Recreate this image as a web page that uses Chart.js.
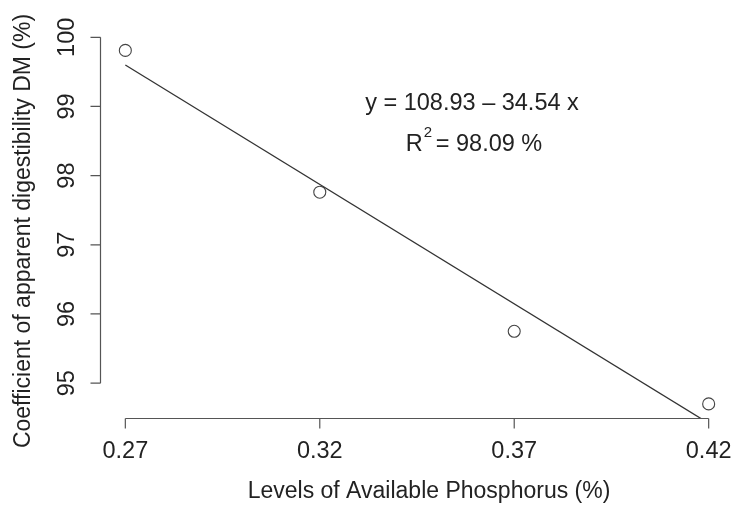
<!DOCTYPE html>
<html>
<head>
<meta charset="utf-8">
<script src="https://cdn.jsdelivr.net/npm/chart.js@4"></script>
<style>
  html, body { margin: 0; padding: 0; background: #fff; }
  #wrap { width: 734px; height: 505px; }
</style>
</head>
<body>
<div id="wrap"><canvas id="chart" width="734" height="505"></canvas></div>
<script>
const phosphorus = [0.27, 0.32, 0.37, 0.42];
const digestibility = [99.81, 97.76, 95.75, 94.70];

// fitted line end points (y = 108.93 - 34.54 x)
const fitX = [0.27, 0.42];
const fitY = [99.60, 94.42];

const xTicks = [0.27, 0.32, 0.37, 0.42];
const yTicks = [95, 96, 97, 98, 99, 100];

const xTitle = "Levels of Available Phosphorus (%)";
const yTitle = "Coefficient of apparent digestibility DM (%)";
const eqLine = "y = 108.93 \u2013 34.54 x";
const r2Value = "= 98.09 %";

const FONT = "'Liberation Sans', Arial, sans-serif";
const INK = "#222";

const rAxes = {
    id: "rAxes",
    afterDraw(chart) {
        const ctx = chart.ctx;
        const x = chart.scales.x;
        const y = chart.scales.y;
        const area = chart.chartArea;
        ctx.save();
        ctx.strokeStyle = "#555";
        ctx.lineWidth = 1.2;
        ctx.fillStyle = INK;
        ctx.font = "23.5px " + FONT;

        // x axis
        const ay = Math.round(area.bottom) + 0.5;
        ctx.beginPath();
        ctx.moveTo(x.getPixelForValue(xTicks[0]), ay);
        ctx.lineTo(x.getPixelForValue(xTicks[xTicks.length - 1]), ay);
        xTicks.forEach((t) => {
            const px = x.getPixelForValue(t);
            ctx.moveTo(px, ay);
            ctx.lineTo(px, ay + 10);
        });
        ctx.stroke();
        ctx.textAlign = "center";
        ctx.textBaseline = "middle";
        xTicks.forEach((t) => {
            ctx.fillText(t.toFixed(2), x.getPixelForValue(t), ay + 33);
        });

        // y axis
        const ax = Math.round(area.left) - 1.5;
        ctx.beginPath();
        ctx.moveTo(ax, y.getPixelForValue(yTicks[0]));
        ctx.lineTo(ax, y.getPixelForValue(yTicks[yTicks.length - 1]));
        yTicks.forEach((t) => {
            const py = y.getPixelForValue(t);
            ctx.moveTo(ax, py);
            ctx.lineTo(ax - 10, py);
        });
        ctx.stroke();
        yTicks.forEach((t) => {
            ctx.save();
            ctx.translate(ax - 33, y.getPixelForValue(t));
            ctx.rotate(-Math.PI / 2);
            ctx.fillText(String(t), 0, 0);
            ctx.restore();
        });

        // axis titles
        ctx.font = "23px " + FONT;
        ctx.fillText(xTitle, 429, 492);
        ctx.save();
        ctx.translate(24, 231);
        ctx.rotate(-Math.PI / 2);
        ctx.fillText(yTitle, 0, 0);
        ctx.restore();

        // equation text
        ctx.font = "23.5px " + FONT;
        ctx.fillText(eqLine, 472, 104);
        ctx.textAlign = "left";
        const rW = ctx.measureText("R").width;
        const restW = ctx.measureText(r2Value).width;
        const startX = 474 - (rW + 13 + restW) / 2;
        ctx.fillText("R", startX, 145);
        ctx.font = "15px " + FONT;
        ctx.fillText("2", startX + rW + 1, 133);
        ctx.font = "23.5px " + FONT;
        ctx.fillText(r2Value, startX + rW + 13, 145);
        ctx.restore();
    }
};

document.addEventListener("DOMContentLoaded", () => {
    const ctx = document.getElementById("chart").getContext("2d");
    new Chart(ctx, {
        type: "scatter",
        data: {
            datasets: [
                {
                    label: "fit",
                    data: fitX.map((v, i) => ({ x: v, y: fitY[i] })),
                    showLine: true,
                    borderColor: "#333",
                    borderWidth: 1.3,
                    pointRadius: 0,
                    fill: false,
                    clip: 0,
                },
                {
                    label: "observed",
                    data: phosphorus.map((v, i) => ({ x: v, y: digestibility[i] })),
                    showLine: false,
                    pointStyle: "circle",
                    pointRadius: 6,
                    pointBorderWidth: 1.1,
                    borderColor: "#444",
                    backgroundColor: "rgba(255,255,255,0)",
                },
            ],
        },
        options: {
            responsive: false,
            animation: false,
            layout: {
                autoPadding: false,
                padding: { top: 37, right: 2, bottom: 87, left: 102 },
            },
            plugins: {
                legend: { display: false },
                tooltip: { enabled: false },
            },
            scales: {
                x: { type: "linear", display: false, min: 0.264, max: 0.426 },
                y: { type: "linear", display: false, min: 94.496, max: 100.004 },
            },
        },
        plugins: [rAxes],
    });
});
</script>
</body>
</html>
